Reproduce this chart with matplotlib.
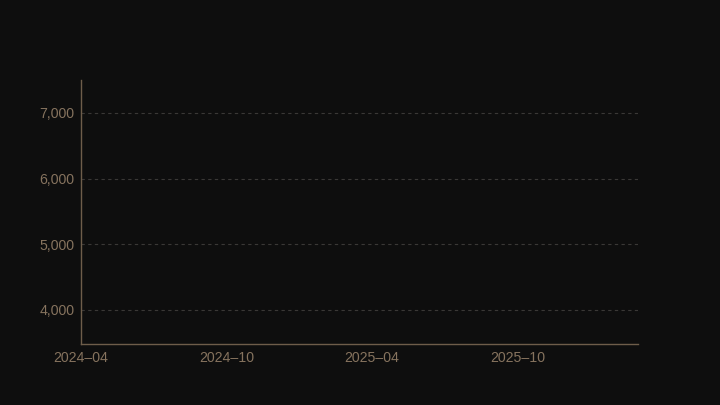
import numpy as np
import pandas as pd
import matplotlib; matplotlib.use("Agg"); import matplotlib.pyplot as plt

# chart carries no visible series: only the frame, grid and ticks
dates = pd.to_datetime([])
values = np.array([], dtype=float)
x_ticks = pd.to_datetime(["2024-04-01", "2024-10-01", "2025-04-01", "2025-10-01"])
x_range = pd.to_datetime(["2024-04-01", "2026-03-01"])
y_ticks = [4000, 5000, 6000, 7000]
y_range = [3480, 7500]

BG = "#0e0e0e"; TXT = "#86735e"; SPINE = "#6e5d4a"; GRID = "#3a3836"
plt.rcParams["font.family"] = ["Liberation Sans", "DejaVu Sans"]

fig = plt.figure(figsize=(7.2, 4.05), dpi=100, facecolor=BG)
ax = fig.add_axes([81/720, 1-344/405, (638-81)/720, (344-80)/405], facecolor=BG)
ax.plot(dates, values, color="#c9a27a", lw=1.5)
ax.set_xlim(x_range[0], x_range[1]); ax.set_ylim(*y_range)
ax.set_xticks(x_ticks); ax.set_xticklabels([d.strftime("%Y\u2013%m") for d in x_ticks])
ax.set_yticks(y_ticks); ax.set_yticklabels([f"{v:,}" for v in y_ticks])
ax.grid(axis="y", ls=(0, (3, 3)), color=GRID, lw=0.8)
for s in ("top", "right"): ax.spines[s].set_visible(False)
for s in ("left", "bottom"): ax.spines[s].set_color(SPINE); ax.spines[s].set_linewidth(1)
ax.tick_params(axis="y", length=0, colors=TXT, labelsize=10.2, pad=4.5)
ax.tick_params(axis="x", length=0, colors=TXT, labelsize=10.2, pad=5)
fig.savefig("out.png", dpi=100, facecolor=BG)
